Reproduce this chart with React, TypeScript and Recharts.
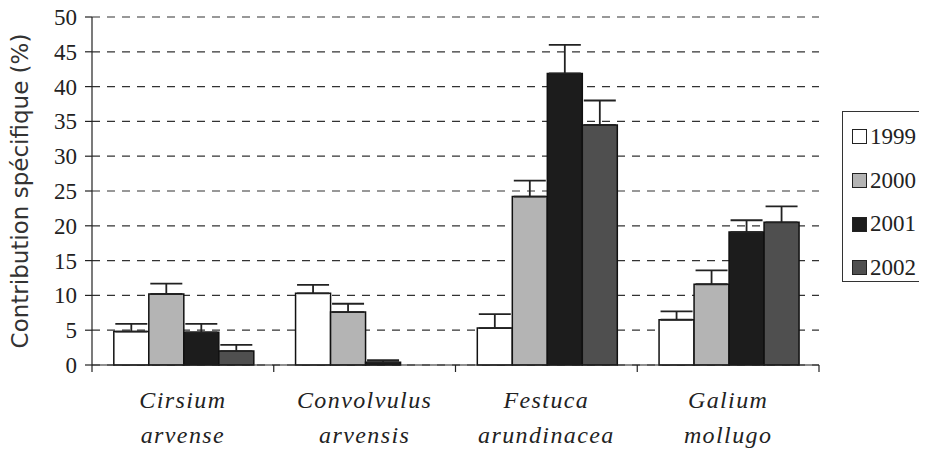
import { BarChart, Bar, XAxis, YAxis, CartesianGrid, ErrorBar, Legend, Label } from 'recharts';

const categories = [
  ['Cirsium', 'arvense'],
  ['Convolvulus', 'arvensis'],
  ['Festuca', 'arundinacea'],
  ['Galium', 'mollugo'],
];
const years = ['1999', '2000', '2001', '2002'];

const v1999 = [4.8, 10.3, 5.3, 6.5];
const v2000 = [10.2, 7.6, 24.2, 11.6];
const v2001 = [4.7, 0.4, 41.9, 19.1];
const v2002 = [2.0, 0, 34.5, 20.5];

const e1999 = [1.1, 1.2, 2.0, 1.2];
const e2000 = [1.5, 1.2, 2.3, 2.0];
const e2001 = [1.2, 0.3, 4.1, 1.7];
const e2002 = [0.9, 0, 3.5, 2.3];

const yTicks = [0, 5, 10, 15, 20, 25, 30, 35, 40, 45, 50];

const fills = ['#ffffff', '#b4b4b4', '#1c1c1c', '#4f4f4f'];

const values = [v1999, v2000, v2001, v2002];
const errors = [e1999, e2000, e2001, e2002];

const data = categories.map((c, i) => {
  const row: any = { name: c.join(' '), lines: c };
  years.forEach((y, k) => {
    row['y' + y] = values[k][i];
    row['e' + y] = errors[k][i];
  });
  return row;
});

const serif = "'Liberation Serif', 'Times New Roman', serif";

function CategoryTick(props: any) {
  const { x, y, payload, index } = props;
  const half = payload.offset || 0;
  const lines = data[index] ? data[index].lines : [payload.value];
  return (
    <g>
      {index === 0 && <line x1={x - half} x2={x - half} y1={y} y2={y + 7} stroke="#222" strokeWidth={1.2} />}
      <line x1={x + half} x2={x + half} y1={y} y2={y + 7} stroke="#222" strokeWidth={1.2} />
      <text
        x={x}
        y={y}
        textAnchor="middle"
        style={{ fontFamily: serif, fontStyle: 'italic', fontSize: 24, letterSpacing: 1.4 }}
        fill="#222"
      >
        <tspan x={x} dy={43}>{lines[0]}</tspan>
        <tspan x={x} dy={35}>{lines[1]}</tspan>
      </text>
    </g>
  );
}

function ValueTick(props: any) {
  const { x, y, payload } = props;
  return (
    <text x={x} y={y} dy={8} textAnchor="end" style={{ fontFamily: serif, fontSize: 23 }} fill="#222">
      {payload.value}
    </text>
  );
}

function LegendBox() {
  return (
    <div
      style={{
        border: '1.5px solid #333',
        width: 90,
        height: 171,
        boxSizing: 'border-box',
        paddingTop: 3,
        paddingLeft: 9,
        fontFamily: serif,
        fontSize: 23,
        color: '#222',
      }}
    >
      {years.map((y, k) => (
        <div key={y} style={{ display: 'flex', alignItems: 'center', height: 43.7 }}>
          <span
            style={{
              display: 'inline-block',
              width: 13,
              height: 13,
              border: '1.5px solid #222',
              background: fills[k],
              marginRight: 3,
            }}
          />
          {y}
        </div>
      ))}
    </div>
  );
}

export default function App() {
  return (
    <div style={{ background: '#fff', marginTop: -4 }}>
      <BarChart
        width={911}
        height={445}
        data={data}
        margin={{ top: 13, right: 100, left: 0, bottom: 4 }}
        barCategoryGap="12%"
        barGap={0}
      >
        <CartesianGrid vertical={false} strokeDasharray="8 7" stroke="#333" strokeWidth={1.2} />
        <XAxis
          dataKey="name"
          height={80}
          axisLine={{ stroke: '#222', strokeWidth: 1.2 }}
          tickLine={false}
          tickSize={0}
          tickMargin={0}
          interval={0}
          tick={<CategoryTick />}
        />
        <YAxis
          width={84}
          domain={[0, 50]}
          ticks={yTicks}
          interval={0}
          axisLine={{ stroke: '#222', strokeWidth: 1.2 }}
          tickLine={{ stroke: '#222', strokeWidth: 1.2 }}
          tickSize={7}
          tickMargin={8}
          tick={<ValueTick />}
        >
          <Label
            value="Contribution spécifique (%)"
            angle={-90}
            position="insideLeft"
            offset={12}
            style={{ textAnchor: 'middle', fontFamily: "'DejaVu Sans', sans-serif", fontSize: 23, fill: '#333' }}
          />
        </YAxis>
        <Legend
          layout="vertical"
          align="center"
          verticalAlign="middle"
          content={<LegendBox />}
          wrapperStyle={{ position: 'absolute', left: 834, top: 107, width: 90 }}
        />
        {years.map((y, k) => (
          <Bar
            key={y}
            dataKey={'y' + y}
            name={y}
            fill={fills[k]}
            stroke="#111"
            strokeWidth={1.5}
            isAnimationActive={false}
          >
            <ErrorBar
              dataKey={(d: any) => [0, d['e' + y]]}
              width={16}
              stroke="#222"
              strokeWidth={1.8}
              direction="y"
            />
          </Bar>
        ))}
      </BarChart>
    </div>
  );
}
